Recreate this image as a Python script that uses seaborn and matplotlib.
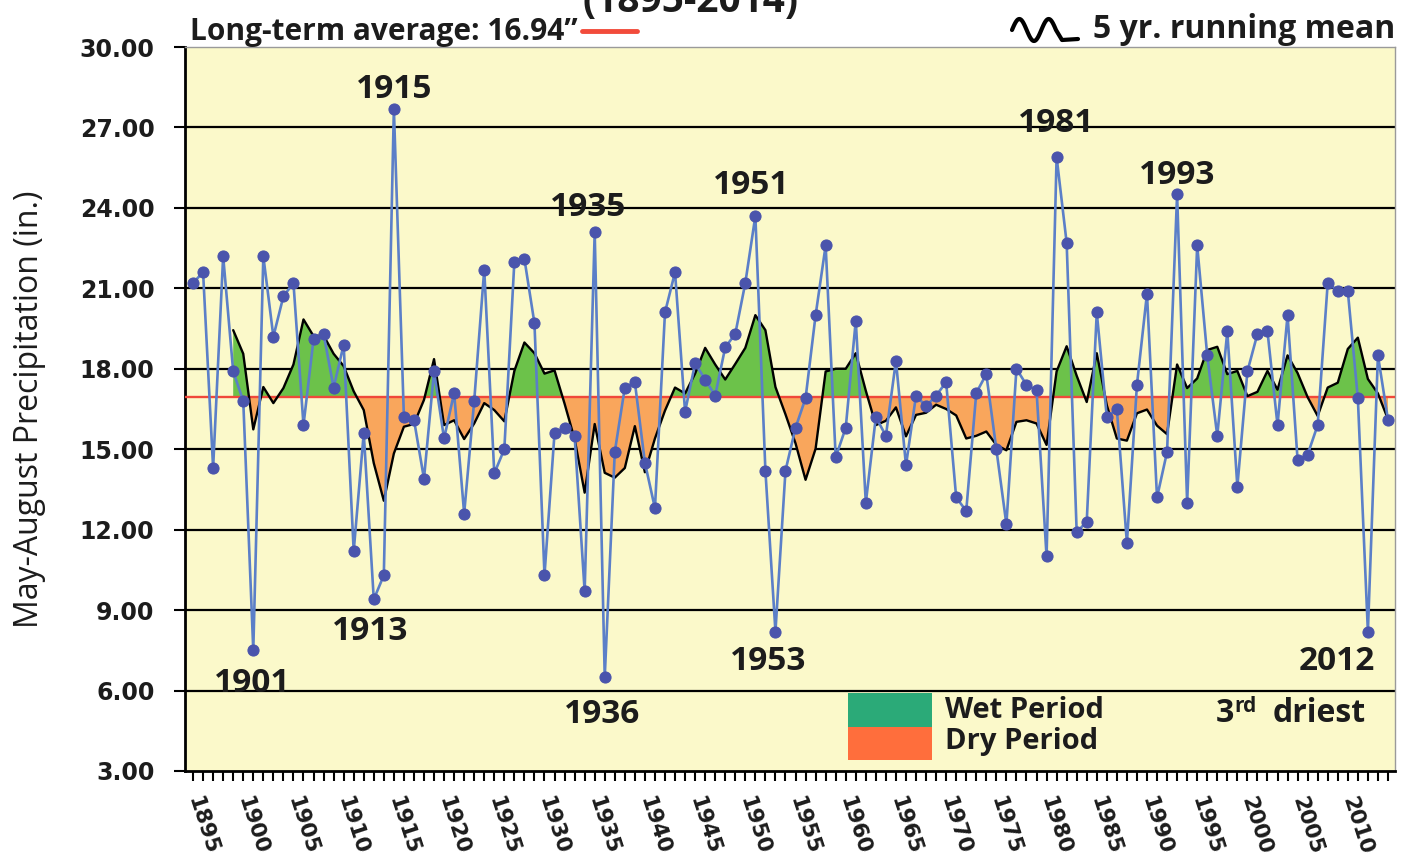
import numpy as np
import pandas as pd
import matplotlib
matplotlib.use("Agg")
import matplotlib.pyplot as plt
from matplotlib.patches import Rectangle
from matplotlib.lines import Line2D
import seaborn as sns

# ---------------- data ----------------
years = list(range(1895, 2015))
precip = [
    21.2, 21.6, 14.3, 22.2, 17.9, 16.8, 7.5, 22.2, 19.2, 20.7,   # 1895-1904
    21.2, 15.9, 19.1, 19.3, 17.3, 18.9, 11.2, 15.6, 9.4, 10.3,   # 1905-1914
    27.7, 16.2, 16.1, 13.9, 17.9, 15.4, 17.1, 12.6, 16.8, 21.7,  # 1915-1924
    14.1, 15.0, 22.0, 22.1, 19.7, 10.3, 15.6, 15.8, 15.5, 9.7,   # 1925-1934
    23.1, 6.5, 14.9, 17.3, 17.5, 14.5, 12.8, 20.1, 21.6, 16.4,   # 1935-1944
    18.2, 17.6, 17.0, 18.8, 19.3, 21.2, 23.7, 14.2, 8.2, 14.2,   # 1945-1954
    15.8, 16.9, 20.0, 22.6, 14.7, 15.8, 19.8, 13.0, 16.2, 15.5,  # 1955-1964
    18.3, 14.4, 17.0, 16.6, 17.0, 17.5, 13.2, 12.7, 17.1, 17.8,  # 1965-1974
    15.0, 12.2, 18.0, 17.4, 17.2, 11.0, 25.9, 22.7, 11.9, 12.3,  # 1975-1984
    20.1, 16.2, 16.5, 11.5, 17.4, 20.8, 13.2, 14.9, 24.5, 13.0,  # 1985-1994
    22.6, 18.5, 15.5, 19.4, 13.6, 17.9, 19.3, 19.4, 15.9, 20.0,  # 1995-2004
    14.6, 14.8, 15.9, 21.2, 20.9, 20.9, 16.9, 8.2, 18.5, 16.1,   # 2005-2014
]
long_term_avg = 16.94
y_ticks = [3, 6, 9, 12, 15, 18, 21, 24, 27, 30]
x_label_years = list(range(1895, 2011, 5))

annot_labels = ["1915", "1901", "1913", "1935", "1936", "1951", "1953", "1981", "1993", "2012"]
annot_x = [1915.0, 1900.9, 1912.6, 1934.3, 1935.7, 1950.6, 1952.3, 1981.0, 1993.0, 2008.9]
annot_y = [28.4, 6.28, 8.22, 24.0, 5.09, 24.85, 7.07, 27.13, 25.19, 7.07]

df = pd.DataFrame({"Year": years, "Precip": precip})
df["Mean5"] = df["Precip"].rolling(5).mean()   # trailing 5-yr running mean

# ---------------- style ----------------
sns.set_theme(style="white")
plt.rcParams["font.family"] = ["DejaVu Sans"]

W, H = 1413, 861
fig = plt.figure(figsize=(W / 100, H / 100), dpi=100)
fig.patch.set_facecolor("white")
ax = fig.add_axes([185 / W, 1 - 771 / H, 1210 / W, 724 / H])
ax.set_facecolor("#FBF9CA")
ax.set_xlim(1894.2, 2014.7)
ax.set_ylim(3, 30)

TXT = "#1c1c1c"
SANS = ["Open Sans", "DejaVu Sans"]

# grid lines
for v in y_ticks[1:-1]:
    ax.axhline(v, color="black", lw=1.6, zorder=1)

# wet / dry fills
valid = df.dropna()
ax.fill_between(valid["Year"], valid["Mean5"], long_term_avg,
                where=valid["Mean5"] >= long_term_avg, interpolate=True,
                color="#6CC24A", lw=0, zorder=2)
ax.fill_between(valid["Year"], valid["Mean5"], long_term_avg,
                where=valid["Mean5"] < long_term_avg, interpolate=True,
                color="#F9A65C", lw=0, zorder=2)

# long-term average
ax.axhline(long_term_avg, color="#F0483A", lw=1.7, zorder=3)

# running mean
sns.lineplot(data=valid, x="Year", y="Mean5", color="black", lw=1.7, ax=ax, zorder=4)

# yearly series
sns.lineplot(data=df, x="Year", y="Precip", color="#5B7FC8", lw=1.9, marker="o",
             markersize=8, markerfacecolor="#4A54AC", markeredgecolor="#4A54AC",
             ax=ax, zorder=5)

# ---------------- axes ----------------
for s in ["left", "bottom"]:
    ax.spines[s].set_color("black")
    ax.spines[s].set_linewidth(2)
for s in ["top", "right"]:
    ax.spines[s].set_color("#9a9a9a")
    ax.spines[s].set_linewidth(1)

ax.set_yticks(y_ticks)
ax.set_yticklabels([f"{v:.2f}" for v in y_ticks], fontsize=17, weight="bold", color=TXT)
ax.tick_params(axis="y", direction="out", length=8, width=1.5, pad=14, left=True, color="black")

ax.set_xticks(x_label_years)
ax.set_xticks(years, minor=True)
ax.set_xticklabels([str(y) for y in x_label_years], fontsize=15.5, weight="bold", color=TXT,
                   rotation=-72, rotation_mode="anchor", ha="left", va="center")
ax.tick_params(axis="x", which="both", direction="out", length=7, width=1.5, pad=12,
               bottom=True, color="black")
ax.set_xlabel("")
ax.set_ylabel("May-August Precipitation (in.)", fontsize=23, family=SANS, color=TXT)
ax.yaxis.set_label_coords((46 - 185) / 1210, 0.5)

# ---------------- annotations ----------------
for lab, x, y in zip(annot_labels, annot_x, annot_y):
    ax.text(x, y, lab, ha="center", va="center", fontsize=24, weight="bold",
            family=SANS, color=TXT, zorder=6)

# legend patches
ax.add_patch(Rectangle(((848 - 185) / 1210, (771 - 727) / 724), 84 / 1210, 34 / 724,
                       transform=ax.transAxes, color="#2BAA78", lw=0, zorder=6))
ax.add_patch(Rectangle(((848 - 185) / 1210, (771 - 760) / 724), 84 / 1210, 33 / 724,
                       transform=ax.transAxes, color="#FF6E3C", lw=0, zorder=6))
ax.text((945 - 185) / 1210, (771 - 711) / 724, "Wet Period", transform=ax.transAxes,
        ha="left", va="center", fontsize=21, weight="bold", family=SANS, color=TXT, zorder=6)
ax.text((945 - 185) / 1210, (771 - 741) / 724, "Dry Period", transform=ax.transAxes,
        ha="left", va="center", fontsize=21, weight="bold", family=SANS, color=TXT, zorder=6)

# 3rd driest
ax.text((1216 - 185) / 1210, (771 - 713) / 724, "3", transform=ax.transAxes,
        ha="left", va="center", fontsize=23, weight="bold", family=SANS, color=TXT)
ax.text((1234 - 185) / 1210, (771 - 706) / 724, "rd", transform=ax.transAxes,
        ha="left", va="center", fontsize=15, weight="bold", family=SANS, color=TXT)
ax.text((1273 - 185) / 1210, (771 - 713) / 724, "driest", transform=ax.transAxes,
        ha="left", va="center", fontsize=23, weight="bold", family=SANS, color=TXT)

# ---------------- header texts ----------------
fig.text(690 / W, 1 - 12 / H, "(1895-2014)", ha="center", va="baseline",
         fontsize=28, weight="bold", family=SANS, color=TXT)
fig.text(190 / W, 1 - 40 / H, "Long-term average: 16.94\u201d", ha="left", va="baseline",
         fontsize=21.5, weight="bold", family=SANS, color=TXT)
fig.add_artist(Line2D([582 / W, 637 / W], [1 - 31 / H, 1 - 31 / H], color="#F24B3B",
                      lw=3.5, transform=fig.transFigure))
fig.text(1395 / W, 1 - 38 / H, "5 yr. running mean", ha="right", va="baseline",
         fontsize=23, weight="bold", family=SANS, color=TXT)

# squiggle icon for the running-mean key
t = np.linspace(0, 1, 60)
sq_x = 1012 + 44 * t
sq_y = 30 - 11 * np.sin(2 * np.pi * 1.5 * t)
sq_x = np.concatenate([sq_x, [1062, 1078]])
sq_y = np.concatenate([sq_y, [40, 39]])
fig.add_artist(Line2D(sq_x / W, 1 - sq_y / H, color="black", lw=3,
                      solid_capstyle="round", transform=fig.transFigure))

fig.savefig("out.png", dpi=100, facecolor="white")
